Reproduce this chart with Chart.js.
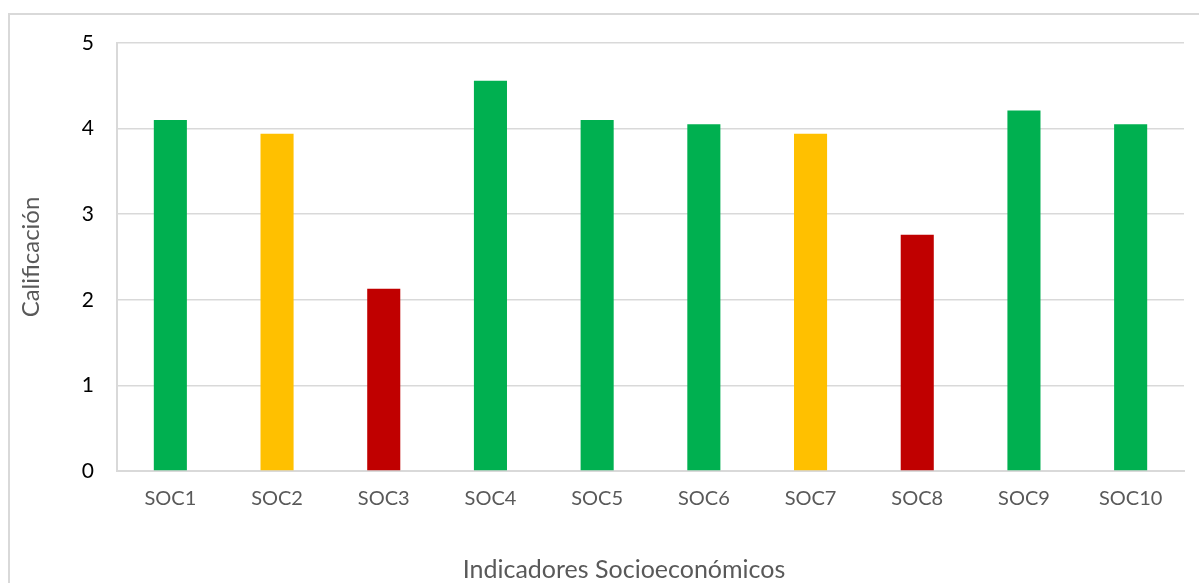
<!DOCTYPE html>
<html lang="es">
<head>
<meta charset="utf-8">
<title>Indicadores Socioeconómicos</title>
<script src="https://cdn.jsdelivr.net/npm/chart.js@4/dist/chart.umd.min.js"></script>
<style>
  html, body { margin: 0; padding: 0; background: #fff; overflow: hidden; }
  #wrap { position: relative; width: 1199px; height: 583px; overflow: hidden; }
  #frame {
    position: absolute; left: 8px; top: 13px;
    width: 1400px; height: 800px;
    border: 2px solid #d9d9d9; box-sizing: border-box;
  }
  canvas { position: absolute; left: 0; top: 0; }
</style>
</head>
<body>
<div id="wrap">
  <div id="frame"></div>
  <canvas id="chart" width="1199" height="583"></canvas>
</div>
<script>
// Indicators and their scores (0–5 scale)
const categories = ['SOC1', 'SOC2', 'SOC3', 'SOC4', 'SOC5', 'SOC6', 'SOC7', 'SOC8', 'SOC9', 'SOC10'];
const scores = [4.10, 3.94, 2.13, 4.56, 4.10, 4.05, 3.94, 2.76, 4.21, 4.05];
const yTicks = [0, 1, 2, 3, 4, 5];

const xTitle = 'Indicadores Socioeconómicos';
const yTitle = 'Calificación';

// Traffic-light colouring by score level
const GREEN = '#00b050', YELLOW = '#ffc000', RED = '#c00000';
function levelColor(v) {
  if (v >= 4) return GREEN;
  if (v >= 3) return YELLOW;
  return RED;
}

const FONT = 'Lato, "Open Sans", sans-serif';
const GREY_TEXT = '#595959';
const GRID = '#d9d9d9';

// Draws the category-axis title below the tick labels
const xTitlePlugin = {
  id: 'xTitle',
  afterDraw(chart) {
    const ctx = chart.ctx;
    ctx.save();
    ctx.font = '25px ' + FONT;
    ctx.fillStyle = GREY_TEXT;
    ctx.textAlign = 'center';
    ctx.textBaseline = 'middle';
    ctx.fillText(xTitle, 624, 570);
    ctx.restore();
  }
};

new Chart(document.getElementById('chart'), {
  type: 'bar',
  data: {
    labels: categories,
    datasets: [{
      data: scores,
      backgroundColor: scores.map(levelColor),
      borderWidth: 0,
      categoryPercentage: 1,
      barPercentage: 0.31
    }]
  },
  options: {
    responsive: false,
    animation: false,
    devicePixelRatio: 1,
    layout: { padding: { left: 0, right: 15, top: 43, bottom: 0 } },
    plugins: {
      legend: { display: false },
      tooltip: { enabled: false }
    },
    scales: {
      x: {
        grid: { display: false, drawTicks: false },
        border: { display: true, color: GRID, width: 2 },
        ticks: {
          color: GREY_TEXT,
          font: { family: FONT, size: 20 },
          padding: 16,
          maxRotation: 0
        },
        afterFit(scale) { scale.height = 112; }
      },
      y: {
        min: 0,
        max: 5,
        afterBuildTicks(scale) { scale.ticks = yTicks.map(v => ({ value: v })); },
        grid: { color: GRID, lineWidth: 1.5, drawTicks: false },
        border: { display: true, color: GRID, width: 2 },
        ticks: {
          color: '#000',
          font: { family: FONT, size: 21 },
          padding: 23
        },
        title: {
          display: true,
          text: yTitle,
          color: GREY_TEXT,
          font: { family: FONT, size: 24 },
          padding: { top: 17, bottom: 0 }
        },
        afterFit(scale) { scale.width = 117; }
      }
    }
  },
  plugins: [xTitlePlugin]
});
</script>
</body>
</html>
